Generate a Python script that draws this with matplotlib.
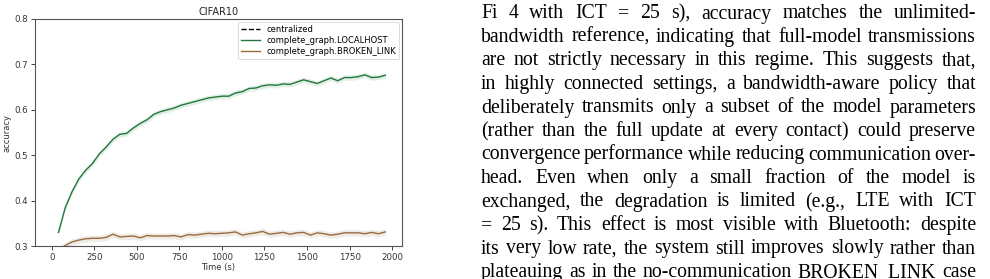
import matplotlib
matplotlib.use("Agg")
import matplotlib.pyplot as plt
import numpy as np

# ---------------- data ----------------
time_s = [40, 80, 120, 160, 200, 240, 280, 320, 360, 400, 440, 480, 520, 560, 600,
          640, 680, 720, 760, 800, 840, 880, 920, 960, 1000, 1040, 1080, 1120, 1160,
          1200, 1240, 1280, 1320, 1360, 1400, 1440, 1480, 1520, 1560, 1600, 1640,
          1680, 1720, 1760, 1800, 1840, 1880, 1920, 1960]

localhost_acc = [0.330, 0.385, 0.420, 0.448, 0.467, 0.482, 0.503, 0.518, 0.535, 0.546,
                 0.548, 0.560, 0.570, 0.578, 0.590, 0.596, 0.600, 0.604, 0.610, 0.614,
                 0.618, 0.622, 0.626, 0.628, 0.630, 0.630, 0.637, 0.640, 0.647, 0.648,
                 0.653, 0.655, 0.654, 0.657, 0.656, 0.661, 0.666, 0.662, 0.658, 0.664,
                 0.670, 0.664, 0.671, 0.671, 0.673, 0.677, 0.671, 0.672, 0.676]

broken_link_acc = [0.292, 0.301, 0.309, 0.313, 0.316, 0.317, 0.317, 0.319, 0.326, 0.320,
                   0.321, 0.322, 0.318, 0.323, 0.322, 0.322, 0.322, 0.323, 0.320, 0.325,
                   0.324, 0.326, 0.328, 0.327, 0.328, 0.329, 0.331, 0.324, 0.327, 0.329,
                   0.332, 0.326, 0.328, 0.330, 0.326, 0.329, 0.330, 0.324, 0.329, 0.327,
                   0.324, 0.326, 0.329, 0.329, 0.329, 0.327, 0.330, 0.327, 0.331]

centralized_time = []
centralized_acc = []

localhost_ci = 0.006
broken_link_ci = 0.007

series_labels = ["centralized", "complete_graph.LOCALHOST", "complete_graph.BROKEN_LINK"]
x_ticks = [0, 250, 500, 750, 1000, 1250, 1500, 1750, 2000]
y_ticks = [0.3, 0.4, 0.5, 0.6, 0.7, 0.8]

paragraph_lines = [
    "Fi 4 with ICT = 25 s), accuracy matches the unlimited-",
    "bandwidth reference, indicating that full-model transmissions",
    "are not strictly necessary in this regime. This suggests that,",
    "in highly connected settings, a bandwidth-aware policy that",
    "deliberately transmits only a subset of the model parameters",
    "(rather than the full update at every contact) could preserve",
    "convergence performance while reducing communication over-",
    "head. Even when only a small fraction of the model is",
    "exchanged, the degradation is limited (e.g., LTE with ICT",
    "= 25 s). This effect is most visible with Bluetooth: despite",
    "its very low rate, the system still improves slowly rather than",
    "plateauing as in the no-communication BROKEN_LINK case",
]

# ---------------- figure ----------------
W, H = 990, 279
fig = plt.figure(figsize=(W / 100, H / 100), dpi=100)

ax_l, ax_r, ax_t, ax_b = 35, 402, 19, 246
ax = fig.add_axes([ax_l / W, 1 - ax_b / H, (ax_r - ax_l) / W, (ax_b - ax_t) / H])

green = "#23763d"
brown = "#9a6d3e"
green_band = "#3f9a5c"
brown_band = "#b39d86"

t = np.array(time_s)
g = np.array(localhost_acc)
b = np.array(broken_link_acc)

ax.plot(centralized_time, centralized_acc, color="black", ls="--", lw=1.0, label=series_labels[0])
ax.fill_between(t, g - localhost_ci, g + localhost_ci, color=green_band, alpha=0.15, lw=0)
ax.plot(t, g, color=green, lw=1.0, label=series_labels[1])
ax.fill_between(t, b - broken_link_ci, b + broken_link_ci, color=brown_band, alpha=0.2, lw=0)
ax.plot(t, b, color=brown, lw=1.0, label=series_labels[2])

ax.set_xlim(-98, 2058)
ax.set_ylim(0.3, 0.8)
ax.set_xticks(x_ticks)
ax.set_yticks(y_ticks)
ax.set_xticklabels([str(v) for v in x_ticks])
ax.set_yticklabels([f"{v:.1f}" for v in y_ticks])
ax.tick_params(labelsize=6.2, length=3, width=0.7, color="#444444", labelcolor="#333333", pad=2)
for s in ax.spines.values():
    s.set_color("#555555")
    s.set_linewidth(0.8)
ax.set_title("CIFAR10", fontsize=7, color="#222222", pad=3)
ax.set_xlabel("Time (s)", fontsize=6, color="#333333", labelpad=1)
ax.set_ylabel("accuracy", fontsize=6, color="#333333", labelpad=2)
leg = ax.legend(loc="upper right", fontsize=6, frameon=True, borderaxespad=0.4,
                handlelength=2.3, labelspacing=0.25, borderpad=0.35, handletextpad=0.7)
leg.get_frame().set_linewidth(0.6)
leg.get_frame().set_edgecolor("#cccccc")

# ---------------- justified paragraph ----------------
txt_left, txt_right = 481, 976
base0, lead = 18.5, 23.5
fsize = 14.2
renderer = fig.canvas.get_renderer()
for i, line in enumerate(paragraph_lines):
    words = line.split(" ")
    y = 1 - (base0 + i * lead) / H
    objs = [fig.text(0, y, w, fontsize=fsize, family="Liberation Serif",
                     color="black", va="baseline", ha="left") for w in words]
    widths = [o.get_window_extent(renderer).width for o in objs]
    gap = (txt_right - txt_left - sum(widths)) / max(len(words) - 1, 1)
    x = txt_left
    for o, w in zip(objs, widths):
        o.set_x(x / W)
        x += w + gap

fig.savefig("out.png", dpi=100)
